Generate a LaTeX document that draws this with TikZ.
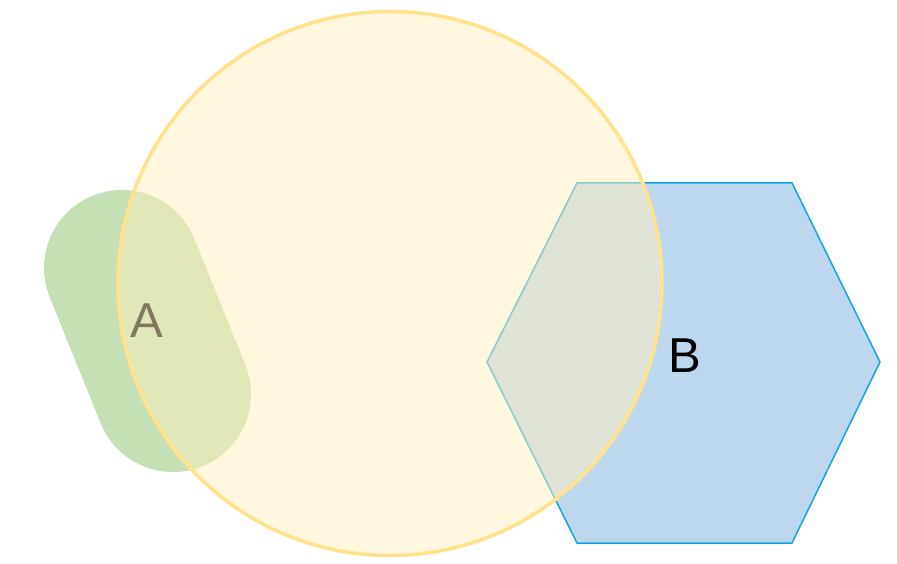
\documentclass[tikz,border=0pt]{standalone}
\usepackage{fontspec}
\setmainfont{Liberation Sans}
\usepackage{xcolor}
\usetikzlibrary{shapes.misc}
\definecolor{pillgreen}{HTML}{C5E0B4}
\definecolor{hexblue}{HTML}{BDD7EE}
\definecolor{hexedge}{HTML}{12A6DE}
\definecolor{sunfill}{HTML}{FFEFBD}
\definecolor{sunedge}{HTML}{FFE28A}

\begin{document}
\begin{tikzpicture}[x=1pt,y=1pt,
    pill/.style={rounded rectangle, fill=pillgreen, inner sep=0pt,
      minimum width=292pt, minimum height=156pt},
    sun/.style={circle, fill=sunfill, fill opacity=0.5, draw=sunedge,
      draw opacity=1, line width=3.5pt, inner sep=0pt, minimum size=544pt},
    letter/.style={font=\fontsize{49}{58}\selectfont, inner sep=0pt}]
    \useasboundingbox (0,0) rectangle (897,563);
    % hexagon B
    \draw[fill=hexblue, draw=hexedge, line width=1.5pt]
      (577,380) -- (792,380) -- (880,201) -- (792,20) -- (577,20) -- (487,201) -- cycle;
    % capsule A
    \node[pill, rotate=-68] (pillA) at (147.5,232) {};
    \node[letter] (A) at (147,242) {A};
    % big circle on top
    \node[sun] (big) at (390,279.5) {};
    \node[letter] (B) at (685,207) {B};
\end{tikzpicture}
\end{document}
